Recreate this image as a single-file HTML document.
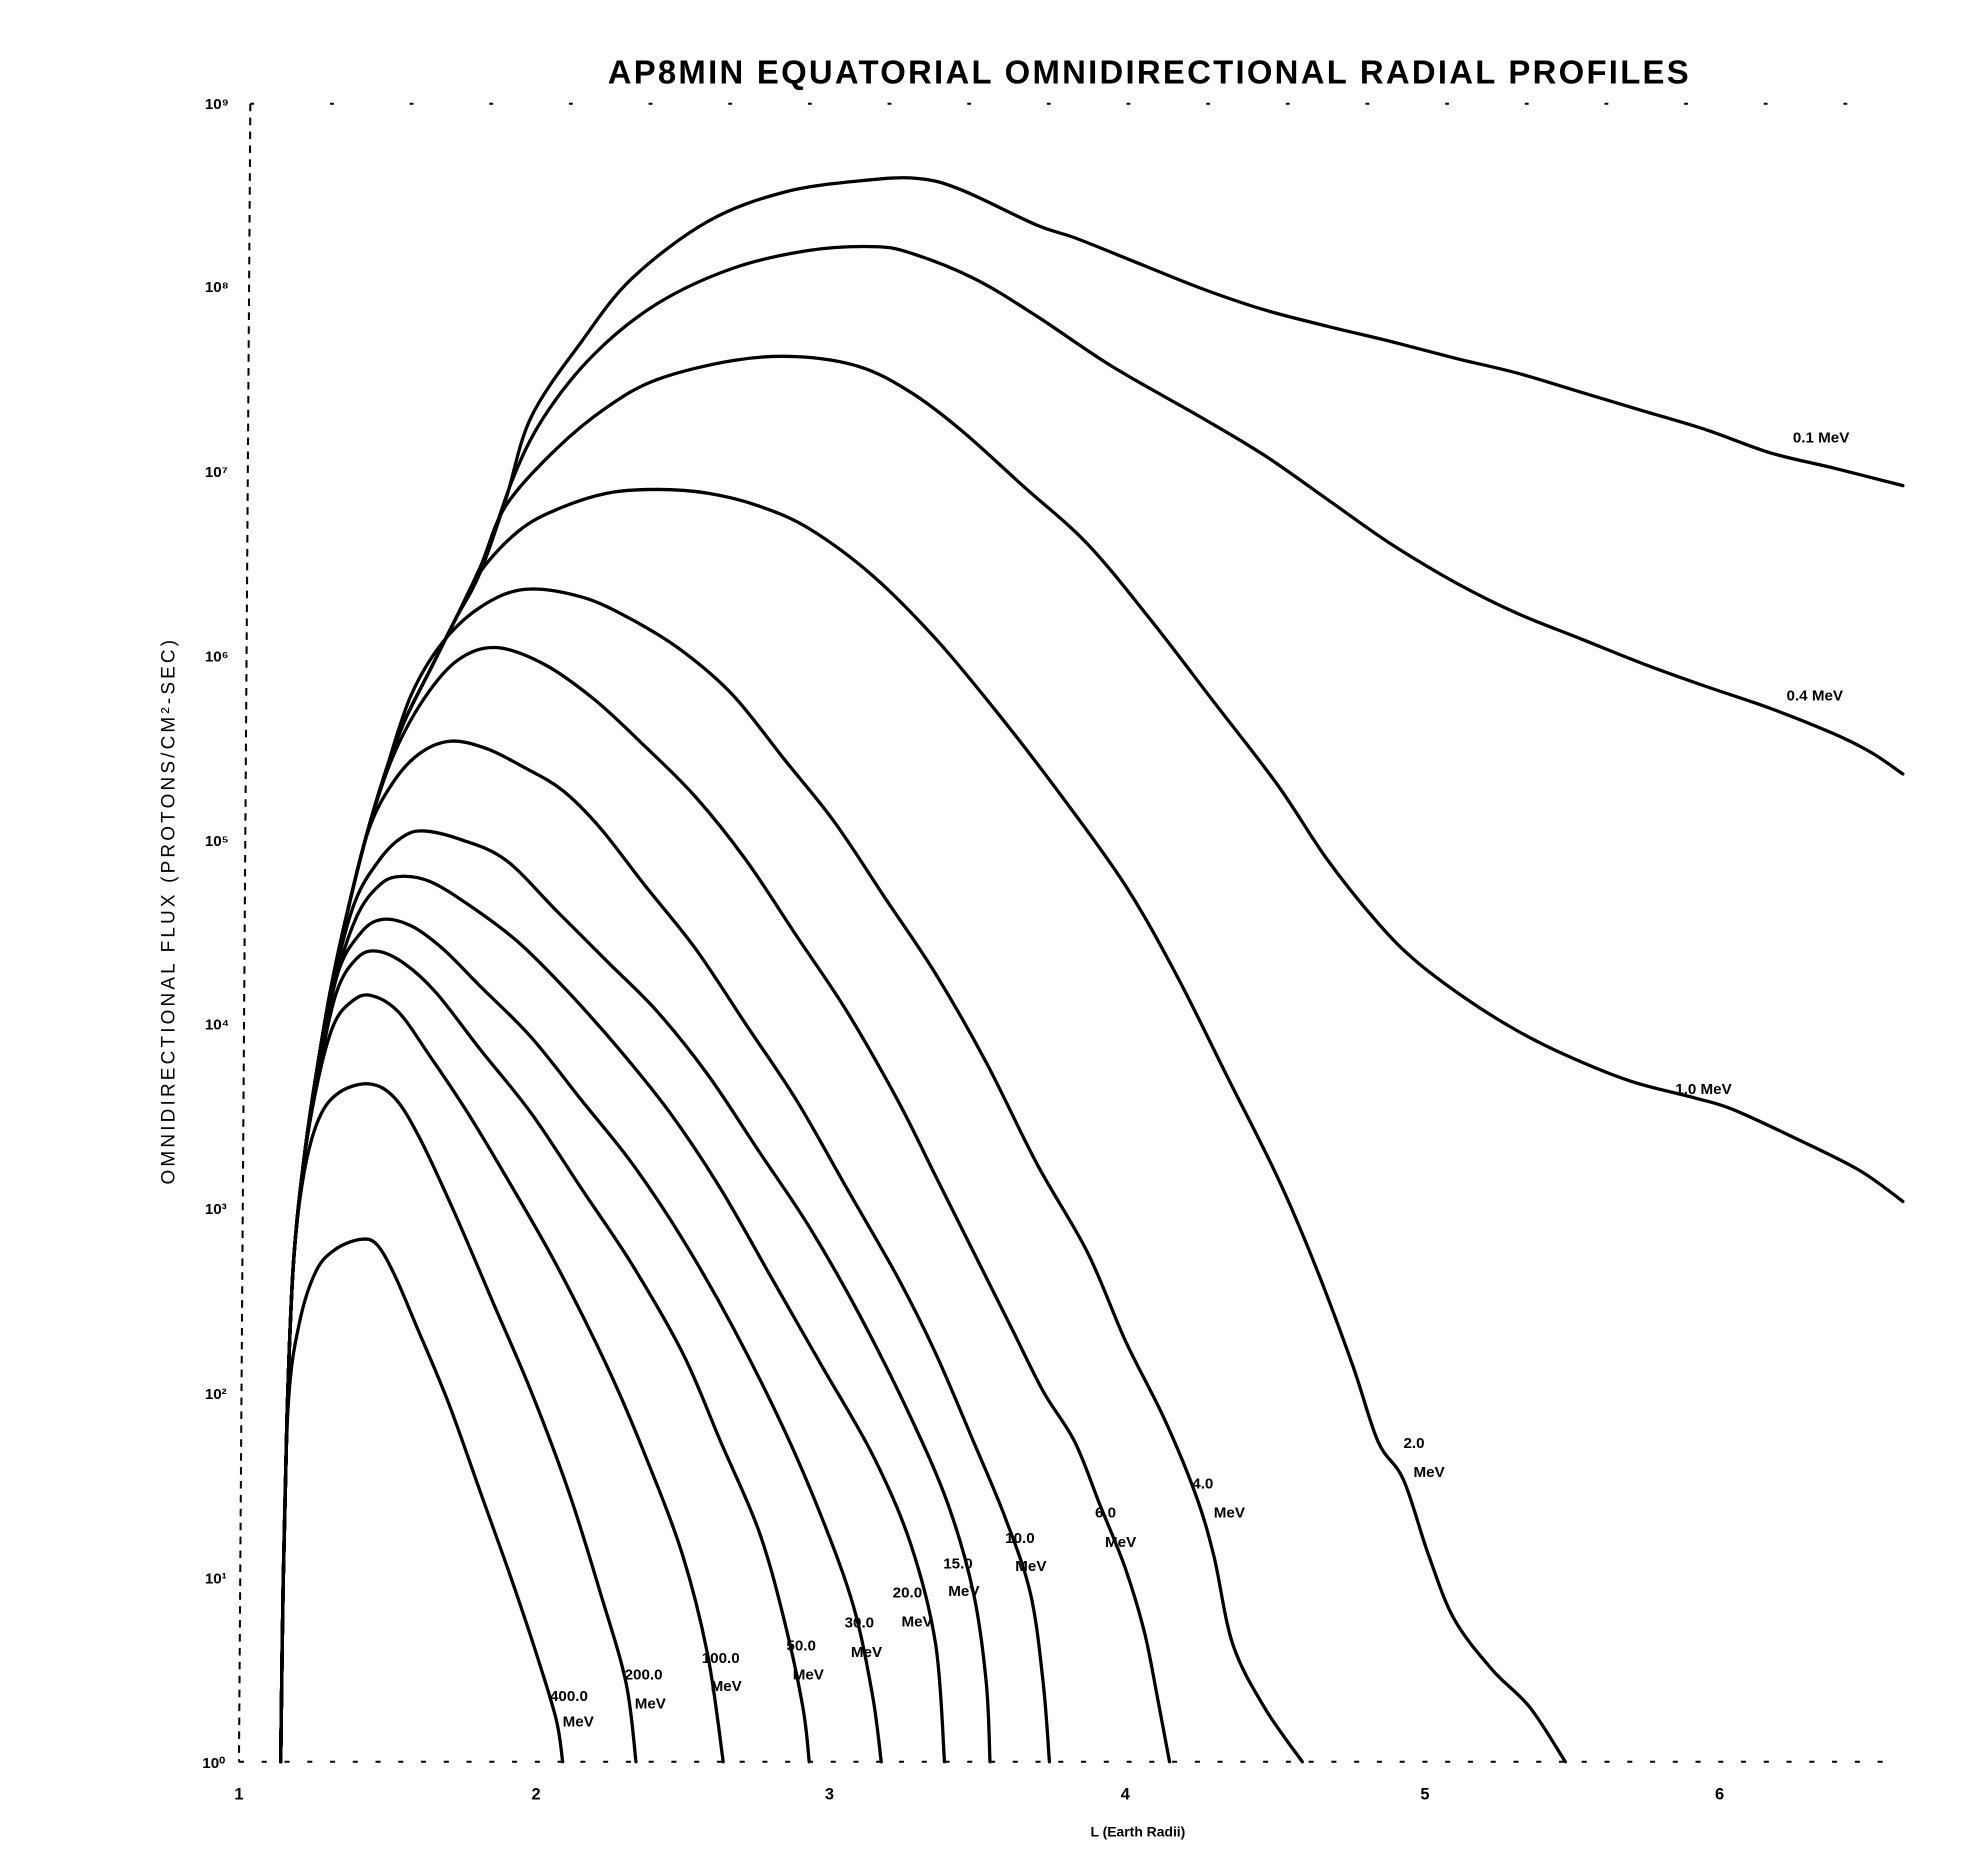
<!DOCTYPE html>
<html><head><meta charset="utf-8"><style>
html,body{margin:0;padding:0;background:#fff;}
svg{display:block;}
text{font-family:"Liberation Sans",sans-serif;fill:#000;}
</style></head><body>
<svg width="1980" height="1868" viewBox="0 0 1566 1477" preserveAspectRatio="none" xmlns="http://www.w3.org/2000/svg">
<rect width="1566" height="1477" fill="#fff"/>
<text x="909" y="66" font-size="26" font-weight="bold" text-anchor="middle" letter-spacing="1.8">AP8MIN EQUATORIAL OMNIDIRECTIONAL RADIAL PROFILES</text>
<g stroke="#000" stroke-width="1.6" fill="none">
<path d="M198 82 L189 1393" stroke-dasharray="6 5"/>
<path d="M198 82 L1500 82" stroke-dasharray="3 60"/>
<path d="M189 1393 L1500 1393" stroke-dasharray="4 14"/>
</g>
<g font-size="12" font-weight="bold">
<text x="162" y="86">10⁹</text><text x="162" y="231">10⁸</text><text x="162" y="377">10⁷</text>
<text x="162" y="523">10⁶</text><text x="162" y="669">10⁵</text><text x="162" y="814">10⁴</text>
<text x="162" y="960">10³</text><text x="162" y="1106">10²</text><text x="162" y="1252">10¹</text>
<text x="160" y="1398">10⁰</text>
</g>
<g font-size="13" font-weight="bold" text-anchor="middle">
<text x="189" y="1423">1</text><text x="424" y="1423">2</text><text x="656" y="1423">3</text>
<text x="890" y="1423">4</text><text x="1127" y="1423">5</text><text x="1360" y="1423">6</text>
</g>
<text x="900" y="1452" font-size="11" text-anchor="middle" font-weight="bold">L (Earth Radii)</text>
<text transform="translate(138,720) rotate(-90)" font-size="15" text-anchor="middle" letter-spacing="2.5">OMNIDIRECTIONAL  FLUX  (PROTONS/CM²-SEC)</text>
<g id="curves" stroke="#000" stroke-width="2.6" fill="none" stroke-linejoin="round" stroke-linecap="round">
<path d="M222 1393 L224 1250 L227 1120 L232 1000 L240 920 L250 850 L262 780 L275 720 L290 660 L305 610 L320 570 L340 530 L360 490 L380 452 L400 395 L420 330 L460 270 L500 220 L560 175 L620 152 L680 143 L725 141 L760 150 L820 178 L850 188 L900 208 L950 228 L1000 245 L1050 258 L1100 270 L1150 283 L1200 295 L1250 310 L1300 325 L1350 340 L1400 358 L1450 370 L1505 384"/>
<path d="M222 1393 L224 1250 L227 1120 L232 1000 L240 920 L250 850 L262 780 L275 720 L290 660 L305 610 L320 570 L340 530 L360 490 L380 452 L405 380 L430 330 L470 280 L520 240 L580 212 L640 198 L690 195 L720 200 L770 220 L820 250 L880 290 L950 330 L1000 360 L1050 395 L1100 430 L1150 460 L1200 485 L1250 505 L1300 525 L1350 543 L1400 560 L1450 580 L1480 595 L1505 612"/>
<path d="M222 1393 L224 1250 L227 1120 L232 1000 L240 920 L250 850 L262 780 L275 720 L290 660 L305 610 L320 570 L340 530 L360 490 L380 448 L400 400 L440 355 L480 322 L520 300 L580 285 L630 282 L680 290 L720 310 L760 340 L810 385 L860 430 L910 490 L960 555 L1010 620 L1050 680 L1090 730 L1120 760 L1160 790 L1200 815 L1240 835 L1290 855 L1340 868 L1370 877 L1420 900 L1470 925 L1505 950"/>
<path d="M222 1393 L224 1250 L227 1120 L232 1000 L240 920 L250 850 L262 780 L275 720 L290 660 L305 610 L320 570 L340 530 L360 490 L380 452 L410 420 L440 403 L480 390 L520 387 L560 390 L600 400 L640 418 L690 455 L740 505 L790 565 L840 630 L890 700 L930 770 L970 850 L1010 930 L1040 1000 L1070 1080 L1090 1140 L1110 1170 L1130 1230 L1150 1280 L1180 1320 L1210 1350 L1238 1393"/>
<path d="M222 1393 L224 1250 L227 1120 L232 1000 L240 920 L250 850 L262 780 L275 720 L290 660 L305 610 L325 550 L350 508 L380 480 L415 466 L460 472 L500 490 L540 515 L580 550 L620 600 L660 650 L700 710 L740 770 L780 840 L820 920 L860 990 L890 1060 L920 1120 L945 1180 L960 1230 L975 1300 L1000 1350 L1030 1393"/>
<path d="M222 1393 L224 1250 L227 1120 L232 1000 L240 920 L250 850 L262 780 L275 720 L290 660 L310 600 L335 553 L362 522 L392 512 L430 525 L470 553 L510 590 L550 630 L590 680 L630 740 L670 800 L710 870 L740 930 L770 990 L800 1050 L825 1100 L850 1140 L870 1190 L890 1240 L905 1290 L915 1340 L925 1393"/>
<path d="M222 1393 L224 1250 L227 1120 L232 1000 L240 920 L250 850 L262 780 L275 720 L292 655 L312 617 L333 595 L357 586 L385 592 L415 607 L445 625 L475 655 L510 700 L550 750 L590 810 L630 870 L670 940 L710 1010 L740 1070 L770 1140 L795 1200 L815 1260 L825 1330 L830 1393"/>
<path d="M222 1393 L224 1250 L227 1120 L232 1000 L240 920 L250 850 L262 783 L280 715 L300 680 L318 662 L335 657 L365 664 L400 680 L440 720 L480 760 L520 800 L560 850 L600 910 L640 970 L680 1040 L720 1120 L750 1190 L770 1260 L780 1330 L783 1393"/>
<path d="M222 1393 L224 1250 L227 1120 L232 1000 L240 920 L250 850 L264 780 L282 725 L300 700 L316 693 L340 697 L370 715 L410 745 L450 785 L490 830 L530 880 L570 940 L610 1010 L650 1080 L690 1150 L720 1220 L740 1300 L747 1393"/>
<path d="M222 1393 L224 1250 L227 1120 L232 1000 L240 920 L252 845 L267 770 L285 738 L302 727 L325 732 L350 750 L380 780 L420 820 L460 870 L500 920 L540 980 L580 1050 L620 1130 L650 1200 L675 1270 L690 1340 L697 1393"/>
<path d="M222 1393 L224 1250 L227 1120 L232 1000 L240 920 L252 848 L266 785 L282 758 L298 752 L320 762 L345 785 L380 830 L420 880 L460 940 L500 1000 L540 1070 L570 1140 L600 1210 L620 1280 L635 1350 L640 1393"/>
<path d="M222 1393 L224 1250 L227 1120 L232 1000 L240 920 L252 852 L264 810 L278 792 L293 787 L315 800 L340 835 L370 880 L400 930 L440 1000 L480 1080 L510 1150 L540 1230 L560 1310 L572 1393"/>
<path d="M222 1393 L224 1250 L227 1120 L232 1000 L240 930 L252 885 L268 864 L292 857 L312 868 L332 900 L360 960 L390 1030 L420 1100 L450 1180 L475 1260 L495 1330 L503 1393"/>
<path d="M222 1393 L224 1250 L228 1110 L237 1045 L250 1005 L265 988 L285 980 L298 984 L312 1008 L330 1050 L355 1110 L380 1180 L405 1250 L425 1310 L440 1360 L445 1393"/>
</g>
<g font-size="12" font-weight="bold">
<text x="1418" y="350">0.1 MeV</text>
<text x="1413" y="554">0.4 MeV</text>
<text x="1325" y="865">1.0 MeV</text>
<text x="1110" y="1145">2.0</text><text x="1118" y="1168">MeV</text>
<text x="943" y="1177">4.0</text><text x="960" y="1200">MeV</text>
<text x="866" y="1200">6.0</text><text x="874" y="1223">MeV</text>
<text x="795" y="1220">10.0</text><text x="803" y="1242">MeV</text>
<text x="746" y="1240">15.0</text><text x="750" y="1262">MeV</text>
<text x="706" y="1263">20.0</text><text x="713" y="1286">MeV</text>
<text x="668" y="1287">30.0</text><text x="673" y="1310">MeV</text>
<text x="622" y="1305">50.0</text><text x="627" y="1328">MeV</text>
<text x="555" y="1315">100.0</text><text x="562" y="1337">MeV</text>
<text x="494" y="1328">200.0</text><text x="502" y="1351">MeV</text>
<text x="435" y="1345">400.0</text><text x="445" y="1365">MeV</text>
</g>
</svg>
<script>
document.querySelectorAll('#curves path').forEach(function(p){
  var n=p.getAttribute('d').match(/-?\d+(\.\d+)?/g).map(Number),pts=[];
  for(var i=0;i<n.length;i+=2)pts.push([n[i],n[i+1]]);
  var d='M'+pts[0][0]+' '+pts[0][1];
  for(var i=0;i<pts.length-1;i++){
    var p0=pts[Math.max(i-1,0)],p1=pts[i],p2=pts[i+1],p3=pts[Math.min(i+2,pts.length-1)];
    var c1x=p1[0]+(p2[0]-p0[0])/6,c1y=p1[1]+(p2[1]-p0[1])/6;
    var c2x=p2[0]-(p3[0]-p1[0])/6,c2y=p2[1]-(p3[1]-p1[1])/6;
    d+=' C'+c1x.toFixed(1)+' '+c1y.toFixed(1)+' '+c2x.toFixed(1)+' '+c2y.toFixed(1)+' '+p2[0]+' '+p2[1];
  }
  p.setAttribute('d',d);
});
</script>
</body></html>
